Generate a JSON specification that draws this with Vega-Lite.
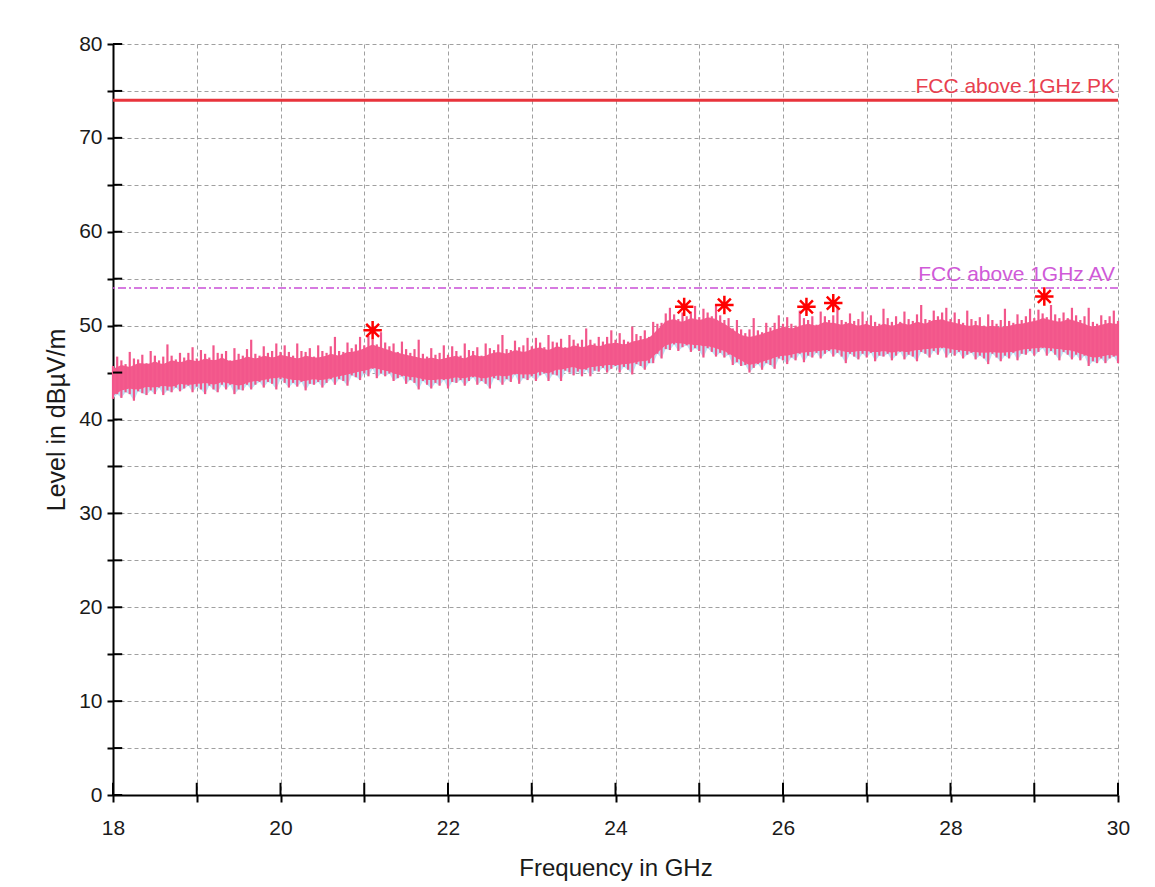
{
  "$schema": "https://vega.github.io/schema/vega-lite/v6.json",
  "width": 1005,
  "height": 751,
  "autosize": "none",
  "padding": {"left": 113, "top": 44, "right": 37, "bottom": 92},
  "background": "white",
  "config": {
    "view": {"stroke": null},
    "font": "Liberation Sans",
    "axis": {
      "domainColor": "#000000", "domainWidth": 2,
      "tickColor": "#000000", "tickWidth": 2,
      "labelFont": "Liberation Sans", "labelFontSize": 21, "labelColor": "#1a1a1a",
      "titleFont": "Liberation Sans", "titleFontWeight": "normal", "titleColor": "#1a1a1a",
      "gridColor": "#a0a0a0", "gridDash": [4, 3], "gridWidth": 1, "gridOpacity": 1
    }
  },
  "datasets": {
    "trace": [
      {"f":18.00,"lc":42.6,"hc":45.4,"b":42.2,"t":45.7},{"f":18.05,"lc":42.8,"hc":45.6,"b":42.7,"t":46.7},{"f":18.10,"lc":43.1,"hc":45.8,"b":42.3,"t":46.3},{"f":18.15,"lc":43.2,"hc":45.7,"b":42.9,"t":45.9},{"f":18.20,"lc":43.3,"hc":45.6,"b":42.7,"t":47.2},
      {"f":18.25,"lc":43.2,"hc":45.8,"b":42.0,"t":46.5},{"f":18.30,"lc":43.2,"hc":46.0,"b":43.0,"t":46.4},{"f":18.35,"lc":43.3,"hc":46.0,"b":42.8,"t":46.9},{"f":18.40,"lc":43.5,"hc":45.9,"b":42.6,"t":46.0},{"f":18.45,"lc":43.4,"hc":46.0,"b":43.1,"t":47.3},
      {"f":18.50,"lc":43.4,"hc":46.2,"b":42.7,"t":46.8},{"f":18.55,"lc":43.5,"hc":46.0,"b":43.4,"t":46.3},{"f":18.60,"lc":43.6,"hc":45.9,"b":42.6,"t":46.7},{"f":18.65,"lc":43.5,"hc":46.1,"b":43.1,"t":48.0},{"f":18.70,"lc":43.5,"hc":46.3,"b":42.9,"t":46.8},
      {"f":18.75,"lc":43.6,"hc":46.2,"b":43.4,"t":46.4},{"f":18.80,"lc":43.8,"hc":46.1,"b":43.0,"t":47.1},{"f":18.85,"lc":43.7,"hc":46.2,"b":43.3,"t":46.6},{"f":18.90,"lc":43.7,"hc":46.4,"b":43.6,"t":47.1},{"f":18.95,"lc":43.7,"hc":46.3,"b":42.9,"t":47.7},
      {"f":19.00,"lc":43.8,"hc":46.2,"b":43.5,"t":46.5},{"f":19.05,"lc":43.8,"hc":46.3,"b":43.2,"t":47.4},{"f":19.10,"lc":43.9,"hc":46.5,"b":42.7,"t":47.0},{"f":19.15,"lc":43.8,"hc":46.4,"b":43.6,"t":46.6},{"f":19.20,"lc":43.7,"hc":46.3,"b":43.2,"t":47.9},
      {"f":19.25,"lc":43.8,"hc":46.4,"b":42.9,"t":47.1},{"f":19.30,"lc":44.0,"hc":46.6,"b":43.7,"t":47.0},{"f":19.35,"lc":43.9,"hc":46.4,"b":43.2,"t":47.3},{"f":19.40,"lc":43.8,"hc":46.2,"b":43.7,"t":46.3},{"f":19.45,"lc":43.7,"hc":46.3,"b":42.7,"t":47.6},
      {"f":19.50,"lc":43.6,"hc":46.4,"b":43.2,"t":47.0},{"f":19.55,"lc":43.7,"hc":46.5,"b":43.1,"t":46.8},{"f":19.60,"lc":43.9,"hc":46.7,"b":43.7,"t":47.5},{"f":19.65,"lc":44.0,"hc":46.6,"b":43.2,"t":48.5},{"f":19.70,"lc":44.1,"hc":46.5,"b":43.7,"t":47.0},
      {"f":19.75,"lc":44.1,"hc":46.6,"b":44.0,"t":46.8},{"f":19.80,"lc":44.2,"hc":46.8,"b":43.4,"t":47.8},{"f":19.85,"lc":44.3,"hc":46.7,"b":44.0,"t":47.1},{"f":19.90,"lc":44.4,"hc":46.6,"b":43.8,"t":47.3},{"f":19.95,"lc":44.4,"hc":46.7,"b":43.2,"t":48.1},
      {"f":20.00,"lc":44.5,"hc":46.9,"b":44.3,"t":47.2},{"f":20.05,"lc":44.4,"hc":46.8,"b":43.9,"t":47.9},{"f":20.10,"lc":44.3,"hc":46.7,"b":43.4,"t":47.2},{"f":20.15,"lc":44.2,"hc":46.6,"b":43.9,"t":46.8},{"f":20.20,"lc":44.2,"hc":46.5,"b":43.5,"t":48.1},
      {"f":20.25,"lc":44.1,"hc":46.6,"b":44.0,"t":47.3},{"f":20.30,"lc":44.1,"hc":46.8,"b":43.1,"t":47.2},{"f":20.35,"lc":44.2,"hc":46.7,"b":43.8,"t":47.6},{"f":20.40,"lc":44.3,"hc":46.6,"b":43.7,"t":46.7},{"f":20.45,"lc":44.2,"hc":46.6,"b":44.0,"t":47.9},
      {"f":20.50,"lc":44.2,"hc":46.7,"b":43.4,"t":47.3},{"f":20.55,"lc":44.3,"hc":46.8,"b":43.9,"t":47.1},{"f":20.60,"lc":44.4,"hc":47.0,"b":44.3,"t":47.8},{"f":20.65,"lc":44.5,"hc":46.9,"b":43.7,"t":48.8},{"f":20.70,"lc":44.6,"hc":46.8,"b":44.3,"t":47.3},
      {"f":20.75,"lc":44.7,"hc":47.0,"b":44.1,"t":47.2},{"f":20.80,"lc":44.8,"hc":47.2,"b":43.6,"t":48.2},{"f":20.85,"lc":44.9,"hc":47.2,"b":44.7,"t":47.6},{"f":20.90,"lc":45.0,"hc":47.3,"b":44.5,"t":48.0},{"f":20.95,"lc":45.1,"hc":47.4,"b":44.2,"t":48.8},
      {"f":21.00,"lc":45.2,"hc":47.6,"b":44.9,"t":47.9},{"f":21.05,"lc":45.3,"hc":47.8,"b":44.6,"t":48.9},{"f":21.10,"lc":45.5,"hc":48.0,"b":45.4,"t":48.5},{"f":21.15,"lc":45.4,"hc":47.8,"b":44.4,"t":48.0},{"f":21.20,"lc":45.3,"hc":47.7,"b":44.9,"t":49.3},
      {"f":21.25,"lc":45.2,"hc":47.5,"b":44.6,"t":48.2},{"f":21.30,"lc":45.1,"hc":47.4,"b":44.9,"t":47.8},{"f":21.35,"lc":44.9,"hc":47.2,"b":44.1,"t":48.1},{"f":21.40,"lc":44.8,"hc":47.1,"b":44.4,"t":47.2},{"f":21.45,"lc":44.7,"hc":47.0,"b":44.6,"t":48.3},
      {"f":21.50,"lc":44.6,"hc":46.9,"b":43.8,"t":47.5},{"f":21.55,"lc":44.5,"hc":46.8,"b":44.2,"t":47.1},{"f":21.60,"lc":44.5,"hc":46.7,"b":43.9,"t":47.5},{"f":21.65,"lc":44.4,"hc":46.6,"b":43.2,"t":48.5},{"f":21.70,"lc":44.3,"hc":46.5,"b":44.1,"t":47.0},
      {"f":21.75,"lc":44.2,"hc":46.5,"b":43.7,"t":46.7},{"f":21.80,"lc":44.2,"hc":46.6,"b":43.3,"t":47.6},{"f":21.85,"lc":44.2,"hc":46.5,"b":43.9,"t":46.9},{"f":21.90,"lc":44.3,"hc":46.4,"b":43.6,"t":47.1},{"f":21.95,"lc":44.3,"hc":46.5,"b":44.2,"t":47.9},
      {"f":22.00,"lc":44.3,"hc":46.6,"b":43.3,"t":46.9},{"f":22.05,"lc":44.4,"hc":46.7,"b":44.0,"t":47.8},{"f":22.10,"lc":44.5,"hc":46.8,"b":43.9,"t":47.3},{"f":22.15,"lc":44.4,"hc":46.6,"b":44.2,"t":46.8},{"f":22.20,"lc":44.4,"hc":46.5,"b":43.6,"t":48.1},
      {"f":22.25,"lc":44.5,"hc":46.7,"b":44.1,"t":47.4},{"f":22.30,"lc":44.6,"hc":46.9,"b":44.5,"t":47.3},{"f":22.35,"lc":44.5,"hc":46.8,"b":43.7,"t":47.7},{"f":22.40,"lc":44.4,"hc":46.7,"b":44.1,"t":46.8},{"f":22.45,"lc":44.4,"hc":46.8,"b":43.8,"t":48.1},
      {"f":22.50,"lc":44.5,"hc":47.0,"b":43.3,"t":47.6},{"f":22.55,"lc":44.6,"hc":47.1,"b":44.4,"t":47.4},{"f":22.60,"lc":44.7,"hc":47.2,"b":44.2,"t":48.0},{"f":22.65,"lc":44.6,"hc":47.1,"b":43.7,"t":49.0},{"f":22.70,"lc":44.6,"hc":47.0,"b":44.3,"t":47.5},
      {"f":22.75,"lc":44.7,"hc":47.2,"b":44.0,"t":47.4},{"f":22.80,"lc":44.9,"hc":47.4,"b":44.8,"t":48.4},{"f":22.85,"lc":44.8,"hc":47.3,"b":43.8,"t":47.7},{"f":22.90,"lc":44.8,"hc":47.2,"b":44.4,"t":47.9},{"f":22.95,"lc":44.8,"hc":47.3,"b":44.2,"t":48.7},
      {"f":23.00,"lc":44.8,"hc":47.5,"b":44.6,"t":47.8},{"f":23.05,"lc":44.9,"hc":47.6,"b":44.1,"t":48.7},{"f":23.10,"lc":45.1,"hc":47.7,"b":44.7,"t":48.2},{"f":23.15,"lc":45.0,"hc":47.5,"b":44.9,"t":47.7},{"f":23.20,"lc":44.9,"hc":47.4,"b":44.1,"t":49.0},
      {"f":23.25,"lc":45.1,"hc":47.6,"b":44.8,"t":48.3},{"f":23.30,"lc":45.3,"hc":47.8,"b":44.7,"t":48.2},{"f":23.35,"lc":45.3,"hc":47.7,"b":44.1,"t":48.6},{"f":23.40,"lc":45.4,"hc":47.6,"b":45.2,"t":47.7},{"f":23.45,"lc":45.5,"hc":47.7,"b":45.0,"t":49.0},
      {"f":23.50,"lc":45.6,"hc":47.9,"b":44.7,"t":48.5},{"f":23.55,"lc":45.4,"hc":47.8,"b":45.1,"t":48.1},{"f":23.60,"lc":45.3,"hc":47.7,"b":44.6,"t":48.5},{"f":23.65,"lc":45.4,"hc":47.8,"b":45.3,"t":49.7},{"f":23.70,"lc":45.6,"hc":48.0,"b":44.6,"t":48.5},
      {"f":23.75,"lc":45.6,"hc":47.9,"b":45.2,"t":48.1},{"f":23.80,"lc":45.7,"hc":47.8,"b":45.1,"t":48.8},{"f":23.85,"lc":45.7,"hc":47.9,"b":45.5,"t":48.3},{"f":23.90,"lc":45.8,"hc":48.1,"b":45.0,"t":48.8},{"f":23.95,"lc":45.8,"hc":48.1,"b":45.4,"t":49.5},
      {"f":24.00,"lc":45.8,"hc":48.2,"b":45.7,"t":48.5},{"f":24.05,"lc":45.8,"hc":48.1,"b":45.0,"t":49.2},{"f":24.10,"lc":45.9,"hc":48.0,"b":45.6,"t":48.5},{"f":24.15,"lc":45.9,"hc":48.1,"b":45.3,"t":48.3},{"f":24.20,"lc":46.0,"hc":48.3,"b":44.8,"t":49.9},
      {"f":24.25,"lc":46.1,"hc":48.4,"b":45.9,"t":49.1},{"f":24.30,"lc":46.2,"hc":48.5,"b":45.7,"t":48.9},{"f":24.35,"lc":46.2,"hc":48.6,"b":45.3,"t":49.5},{"f":24.40,"lc":46.3,"hc":48.7,"b":46.0,"t":48.8},{"f":24.45,"lc":46.7,"hc":49.1,"b":46.0,"t":50.4},
      {"f":24.50,"lc":47.1,"hc":49.6,"b":47.0,"t":50.2},{"f":24.55,"lc":47.5,"hc":50.0,"b":46.5,"t":50.3},{"f":24.60,"lc":47.9,"hc":50.5,"b":47.5,"t":51.3},{"f":24.65,"lc":48.0,"hc":50.6,"b":47.4,"t":51.9},{"f":24.70,"lc":48.2,"hc":50.7,"b":48.0,"t":51.2},
      {"f":24.75,"lc":48.1,"hc":50.5,"b":47.3,"t":50.7},{"f":24.80,"lc":48.1,"hc":50.4,"b":47.7,"t":51.4},{"f":24.85,"lc":48.0,"hc":50.6,"b":47.9,"t":51.0},{"f":24.90,"lc":48.0,"hc":50.8,"b":47.2,"t":51.5},{"f":24.95,"lc":47.9,"hc":50.7,"b":47.6,"t":52.1},
      {"f":25.00,"lc":47.9,"hc":50.6,"b":47.3,"t":50.9},{"f":25.05,"lc":47.8,"hc":50.7,"b":46.6,"t":51.8},{"f":25.10,"lc":47.8,"hc":50.9,"b":47.6,"t":51.4},{"f":25.15,"lc":47.7,"hc":50.8,"b":47.2,"t":51.0},{"f":25.20,"lc":47.6,"hc":50.7,"b":46.7,"t":52.3},
      {"f":25.25,"lc":47.4,"hc":50.4,"b":47.1,"t":51.1},{"f":25.30,"lc":47.3,"hc":50.2,"b":46.6,"t":50.6},{"f":25.35,"lc":47.0,"hc":49.9,"b":46.9,"t":50.8},{"f":25.40,"lc":46.8,"hc":49.6,"b":45.8,"t":49.7},{"f":25.45,"lc":46.5,"hc":49.3,"b":46.1,"t":50.6},
      {"f":25.50,"lc":46.3,"hc":49.0,"b":45.7,"t":49.6},{"f":25.55,"lc":46.0,"hc":48.9,"b":45.8,"t":49.2},{"f":25.60,"lc":45.8,"hc":48.8,"b":45.0,"t":49.6},{"f":25.65,"lc":45.9,"hc":48.9,"b":45.5,"t":50.8},{"f":25.70,"lc":46.0,"hc":49.0,"b":45.9,"t":49.5},
      {"f":25.75,"lc":46.1,"hc":49.1,"b":45.3,"t":49.3},{"f":25.80,"lc":46.3,"hc":49.3,"b":46.0,"t":50.3},{"f":25.85,"lc":46.4,"hc":49.4,"b":45.8,"t":49.8},{"f":25.90,"lc":46.6,"hc":49.6,"b":45.4,"t":50.3},{"f":25.95,"lc":46.7,"hc":49.7,"b":46.5,"t":51.1},
      {"f":26.00,"lc":46.8,"hc":49.9,"b":46.3,"t":50.2},{"f":26.05,"lc":46.8,"hc":49.8,"b":45.9,"t":50.9},{"f":26.10,"lc":46.9,"hc":49.7,"b":46.6,"t":50.2},{"f":26.15,"lc":47.0,"hc":49.8,"b":46.3,"t":50.0},{"f":26.20,"lc":47.1,"hc":50.0,"b":47.0,"t":51.6},
      {"f":26.25,"lc":47.1,"hc":50.1,"b":46.1,"t":50.8},{"f":26.30,"lc":47.2,"hc":50.2,"b":46.8,"t":50.6},{"f":26.35,"lc":47.2,"hc":50.1,"b":46.6,"t":51.0},{"f":26.40,"lc":47.3,"hc":50.0,"b":47.1,"t":50.1},{"f":26.45,"lc":47.3,"hc":50.2,"b":46.5,"t":51.5},
      {"f":26.50,"lc":47.4,"hc":50.4,"b":47.0,"t":51.0},{"f":26.55,"lc":47.4,"hc":50.3,"b":47.3,"t":50.6},{"f":26.60,"lc":47.5,"hc":50.3,"b":46.7,"t":51.1},{"f":26.65,"lc":47.4,"hc":50.2,"b":47.1,"t":52.1},{"f":26.70,"lc":47.3,"hc":50.1,"b":46.7,"t":50.6},
      {"f":26.75,"lc":47.2,"hc":50.2,"b":46.0,"t":50.4},{"f":26.80,"lc":47.2,"hc":50.3,"b":47.0,"t":51.3},{"f":26.85,"lc":47.2,"hc":50.1,"b":46.7,"t":50.5},{"f":26.90,"lc":47.3,"hc":50.0,"b":46.4,"t":50.7},{"f":26.95,"lc":47.3,"hc":50.1,"b":47.0,"t":51.5},
      {"f":27.00,"lc":47.3,"hc":50.2,"b":46.6,"t":50.5},{"f":27.05,"lc":47.2,"hc":50.0,"b":47.1,"t":51.1},{"f":27.10,"lc":47.2,"hc":49.9,"b":46.2,"t":50.4},{"f":27.15,"lc":47.2,"hc":50.0,"b":46.8,"t":50.2},{"f":27.20,"lc":47.3,"hc":50.2,"b":46.7,"t":51.8},
      {"f":27.25,"lc":47.2,"hc":50.1,"b":47.0,"t":50.8},{"f":27.30,"lc":47.1,"hc":50.0,"b":46.3,"t":50.4},{"f":27.35,"lc":47.2,"hc":50.1,"b":46.8,"t":51.0},{"f":27.40,"lc":47.3,"hc":50.3,"b":47.2,"t":50.4},{"f":27.45,"lc":47.2,"hc":50.2,"b":46.4,"t":51.5},
      {"f":27.50,"lc":47.2,"hc":50.1,"b":46.9,"t":50.7},{"f":27.55,"lc":47.3,"hc":50.2,"b":46.7,"t":50.5},{"f":27.60,"lc":47.4,"hc":50.4,"b":46.2,"t":51.2},{"f":27.65,"lc":47.4,"hc":50.3,"b":47.2,"t":52.2},{"f":27.70,"lc":47.5,"hc":50.2,"b":47.0,"t":50.7},
      {"f":27.75,"lc":47.5,"hc":50.4,"b":46.6,"t":50.6},{"f":27.80,"lc":47.6,"hc":50.6,"b":47.3,"t":51.6},{"f":27.85,"lc":47.6,"hc":50.6,"b":46.9,"t":51.0},{"f":27.90,"lc":47.7,"hc":50.7,"b":47.6,"t":51.4},{"f":27.95,"lc":47.6,"hc":50.5,"b":46.6,"t":51.9},
      {"f":28.00,"lc":47.5,"hc":50.4,"b":47.1,"t":50.7},{"f":28.05,"lc":47.4,"hc":50.3,"b":46.8,"t":51.4},{"f":28.10,"lc":47.4,"hc":50.2,"b":47.2,"t":50.7},{"f":28.15,"lc":47.3,"hc":50.1,"b":46.5,"t":50.3},{"f":28.20,"lc":47.3,"hc":50.0,"b":46.9,"t":51.6},
      {"f":28.25,"lc":47.2,"hc":50.0,"b":47.1,"t":50.7},{"f":28.30,"lc":47.2,"hc":50.1,"b":46.4,"t":50.5},{"f":28.35,"lc":47.1,"hc":50.0,"b":46.8,"t":50.9},{"f":28.40,"lc":47.1,"hc":49.9,"b":46.5,"t":50.0},{"f":28.45,"lc":47.1,"hc":49.9,"b":45.9,"t":51.2},
      {"f":28.50,"lc":47.2,"hc":50.0,"b":47.0,"t":50.6},{"f":28.55,"lc":47.1,"hc":49.9,"b":46.6,"t":50.2},{"f":28.60,"lc":47.1,"hc":49.8,"b":46.2,"t":50.6},{"f":28.65,"lc":47.1,"hc":49.9,"b":46.8,"t":51.8},{"f":28.70,"lc":47.2,"hc":50.0,"b":46.5,"t":50.5},
      {"f":28.75,"lc":47.2,"hc":50.1,"b":47.1,"t":50.3},{"f":28.80,"lc":47.3,"hc":50.2,"b":46.3,"t":51.2},{"f":28.85,"lc":47.4,"hc":50.2,"b":47.0,"t":50.6},{"f":28.90,"lc":47.5,"hc":50.3,"b":46.9,"t":51.0},{"f":28.95,"lc":47.5,"hc":50.4,"b":47.3,"t":51.8},
      {"f":29.00,"lc":47.6,"hc":50.5,"b":46.8,"t":50.8},{"f":29.05,"lc":47.6,"hc":50.6,"b":47.2,"t":51.7},{"f":29.10,"lc":47.7,"hc":50.8,"b":47.6,"t":51.3},{"f":29.15,"lc":47.6,"hc":50.7,"b":46.8,"t":50.9},{"f":29.20,"lc":47.6,"hc":50.6,"b":47.3,"t":52.2},
      {"f":29.25,"lc":47.5,"hc":50.5,"b":46.9,"t":51.2},{"f":29.30,"lc":47.5,"hc":50.4,"b":46.3,"t":50.8},{"f":29.35,"lc":47.4,"hc":50.5,"b":47.2,"t":51.4},{"f":29.40,"lc":47.4,"hc":50.7,"b":46.9,"t":50.8},{"f":29.45,"lc":47.3,"hc":50.6,"b":46.4,"t":51.9},
      {"f":29.50,"lc":47.2,"hc":50.5,"b":46.9,"t":51.1},{"f":29.55,"lc":47.0,"hc":50.3,"b":46.3,"t":50.6},{"f":29.60,"lc":46.9,"hc":50.2,"b":46.8,"t":51.0},{"f":29.65,"lc":46.7,"hc":50.0,"b":45.7,"t":51.9},{"f":29.70,"lc":46.6,"hc":49.9,"b":46.2,"t":50.4},
      {"f":29.75,"lc":46.6,"hc":50.0,"b":46.0,"t":50.2},{"f":29.80,"lc":46.7,"hc":50.1,"b":46.5,"t":51.1},{"f":29.85,"lc":46.8,"hc":50.2,"b":46.0,"t":50.6},{"f":29.90,"lc":46.9,"hc":50.3,"b":46.5,"t":51.0},{"f":29.95,"lc":46.8,"hc":50.2,"b":46.7,"t":51.6},
      {"f":30.00,"lc":46.8,"hc":50.2,"b":46.0,"t":50.5}
    ],
    "peaks": [
      {"f":21.1,"v":49.5},{"f":24.82,"v":52.0},{"f":25.3,"v":52.2},{"f":26.28,"v":52.0},{"f":26.6,"v":52.4},{"f":29.12,"v":53.1}
    ],
    "xticks": [{"f":18},{"f":19},{"f":20},{"f":21},{"f":22},{"f":23},{"f":24},{"f":25},{"f":26},{"f":27},{"f":28},{"f":29},{"f":30}],
    "yticks": [{"v":0},{"v":5},{"v":10},{"v":15},{"v":20},{"v":25},{"v":30},{"v":35},{"v":40},{"v":45},{"v":50},{"v":55},{"v":60},{"v":65},{"v":70},{"v":75},{"v":80}]
  },
  "layer": [
    {
      "data": {"name": "trace"},
      "mark": {"type": "area", "color": "#bfe2f4"},
      "encoding": {
        "x": {
          "field": "f", "type": "quantitative", "title": "Frequency in GHz",
          "scale": {"domain": [18, 30], "nice": false, "zero": false},
          "axis": {
            "values": [18,19,20,21,22,23,24,25,26,27,28,29,30],
            "labelExpr": "datum.value % 2 === 0 ? format(datum.value, 'd') : ''",
            "tickSize": 7, "labelPadding": 15, "titlePadding": 18, "titleFontSize": 24,
            "grid": true, "labelFlush": false, "labelOverlap": false
          }
        },
        "y": {
          "field": "b", "type": "quantitative", "title": "Level in dBµV/m",
          "scale": {"domain": [0, 80], "nice": false},
          "axis": {
            "values": [0,5,10,15,20,25,30,35,40,45,50,55,60,65,70,75,80],
            "labelExpr": "datum.value % 10 === 0 ? format(datum.value, 'd') : ''",
            "tickSize": 6, "labelPadding": 5, "titlePadding": 9, "titleFontSize": 25,
            "grid": true, "labelFlush": false, "labelOverlap": false
          }
        },
        "y2": {"field": "lc"}
      }
    },
    {
      "data": {"name": "trace"},
      "mark": {"type": "area", "color": "#f45b8d"},
      "encoding": {
        "x": {"field": "f", "type": "quantitative", "title": "Frequency in GHz"},
        "y": {"field": "lc", "type": "quantitative", "title": "Level in dBµV/m"},
        "y2": {"field": "hc"}
      }
    },
    {
      "data": {"name": "trace"},
      "mark": {"type": "rule", "color": "#f2568b", "strokeWidth": 2.2},
      "encoding": {
        "x": {"field": "f", "type": "quantitative", "title": "Frequency in GHz"},
        "y": {"field": "b", "type": "quantitative", "title": "Level in dBµV/m"},
        "y2": {"field": "t"}
      }
    },
    {
      "data": {"values": [{"v": 74}]},
      "mark": {"type": "rule", "color": "#e8343c", "strokeWidth": 3},
      "encoding": {"y": {"field": "v", "type": "quantitative", "title": "Level in dBµV/m"}}
    },
    {
      "data": {"values": [{"v": 54}]},
      "mark": {"type": "rule", "color": "#c94fd6", "strokeWidth": 1.5, "strokeDash": [8, 3, 2, 3]},
      "encoding": {"y": {"field": "v", "type": "quantitative", "title": "Level in dBµV/m"}}
    },
    {
      "data": {"values": [{"f": 30, "v": 74, "label": "FCC above 1GHz PK"}, {"f": 30, "v": 54, "label": "FCC above 1GHz AV"}]},
      "mark": {"type": "text", "align": "right", "baseline": "bottom", "dx": -3, "dy": -3, "fontSize": 21, "font": "Liberation Sans"},
      "encoding": {
        "x": {"field": "f", "type": "quantitative", "title": "Frequency in GHz"},
        "y": {"field": "v", "type": "quantitative", "title": "Level in dBµV/m"},
        "text": {"field": "label"},
        "color": {"field": "label", "type": "nominal", "scale": {"domain": ["FCC above 1GHz PK", "FCC above 1GHz AV"], "range": ["#e8404f", "#d05ad8"]}, "legend": null}
      }
    },
    {
      "data": {"name": "peaks"},
      "mark": {"type": "point", "shape": "M0,-1L0,1M-1,0L1,0M-0.7,-0.7L0.7,0.7M-0.7,0.7L0.7,-0.7", "filled": false, "stroke": "#ff0000", "strokeWidth": 2.5, "size": 340, "opacity": 1},
      "encoding": {
        "x": {"field": "f", "type": "quantitative", "title": "Frequency in GHz"},
        "y": {"field": "v", "type": "quantitative", "title": "Level in dBµV/m"}
      }
    },
    {
      "data": {"name": "xticks"},
      "mark": {"type": "rule", "color": "#000000", "strokeWidth": 2},
      "encoding": {
        "x": {"field": "f", "type": "quantitative", "title": "Frequency in GHz"},
        "y": {"datum": 0},
        "y2": {"datum": 1.3}
      }
    },
    {
      "data": {"name": "yticks"},
      "mark": {"type": "rule", "color": "#000000", "strokeWidth": 2},
      "encoding": {
        "y": {"field": "v", "type": "quantitative", "title": "Level in dBµV/m"},
        "x": {"datum": 18},
        "x2": {"datum": 18.11}
      }
    }
  ]
}
